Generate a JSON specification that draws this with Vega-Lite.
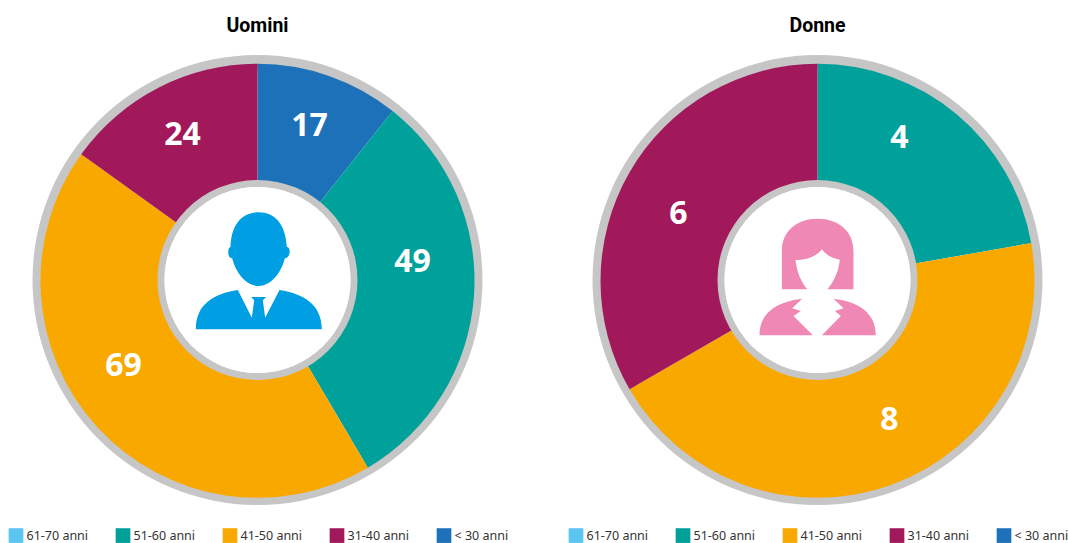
{
  "$schema": "https://vega.github.io/schema/vega-lite/v6.json",
  "padding": {"left": 0, "right": 0, "top": 15, "bottom": 0},
  "background": "white",
  "spacing": 45,
  "config": {"view": {"stroke": null}, "concat": {"spacing": 45}},
  "datasets": {
    "uomini": [
      {"eta": "< 30 anni", "valore": 17, "ordine": 1},
      {"eta": "51-60 anni", "valore": 49, "ordine": 2},
      {"eta": "41-50 anni", "valore": 69, "ordine": 3},
      {"eta": "31-40 anni", "valore": 24, "ordine": 4}
    ],
    "donne": [
      {"eta": "51-60 anni", "valore": 4, "ordine": 1},
      {"eta": "41-50 anni", "valore": 8, "ordine": 2},
      {"eta": "31-40 anni", "valore": 6, "ordine": 3}
    ]
  },
  "resolve": {"scale": {"color": "independent", "x": "independent", "y": "independent"}, "legend": {"color": "independent"}},
  "hconcat": [
    {
      "width": 515,
      "height": 496,
      "title": {"text": "Uomini", "font": "Roboto", "fontSize": 19.5, "fontWeight": "bold", "color": "#000000", "anchor": "middle", "frame": "group", "offset": 12},
      "data": {"name": "uomini"},
      "encoding": {
        "x": {"datum": 0, "type": "quantitative", "axis": null, "scale": {"domain": [-257.5, 257.5]}},
        "y": {"datum": 0, "type": "quantitative", "axis": null, "scale": {"domain": [-264, 232]}}
      },
      "layer": [
        {"data": {"values": [{"anello": "esterno"}]}, "mark": {"type": "arc", "radius": 225, "radius2": 210, "theta": 0, "theta2": 6.2832, "fill": "#C6C6C6"}},
        {
          "mark": {"type": "arc", "radius": 217, "radius2": 95},
          "encoding": {
            "y": {"datum": -0.8, "type": "quantitative"},
            "theta": {"field": "valore", "type": "quantitative", "stack": true},
            "order": {"field": "ordine", "type": "ordinal"},
            "color": {
              "field": "eta", "type": "nominal",
              "scale": {"domain": ["61-70 anni", "51-60 anni", "41-50 anni", "31-40 anni", "< 30 anni"], "range": ["#5BC5F2", "#00A19A", "#F9A800", "#A1195A", "#1D71B8"]},
              "sort": null,
              "legend": {"title": null, "orient": "none", "legendX": 8.5, "legendY": 480, "columns": 5, "gridAlign": "all", "columnPadding": 27, "symbolType": "square", "symbolSize": 216, "symbolStrokeWidth": 0, "labelFont": "Noto Sans", "labelFontSize": 12.5, "labelColor": "#333333", "labelOffset": 3, "padding": 0}
            }
          }
        },
        {"data": {"values": [{"anello": "interno"}]}, "mark": {"type": "arc", "radius": 100, "radius2": 93, "theta": 0, "theta2": 6.2832, "fill": "#C6C6C6"}},
        {"data": {"values": [{"anello": "centro"}]}, "mark": {"type": "arc", "radius": 93, "radius2": 0, "theta": 0, "theta2": 6.2832, "fill": "#FFFFFF"}},
        {"data": {"values": [{"icona": "uomo"}]}, "mark": {"type": "point", "filled": true, "opacity": 1, "size": 0.4444, "fill": "#009FE3", "strokeWidth": 0, "shape": "M 3 -203 C -47 -203 -79 -167 -81 -99 C -90 -99 -92 -65 -76 -65 C -64 -17 -32 18 3 18 C 38 18 70 -17 82 -65 C 98 -65 102 -99 88 -99 C 84 -167 53 -203 3 -203 Z M -185 148 C -185 73 -132 41 -59 30 L -17 113 L -10 61 L -19 51 L 26 51 L 16 61 L 23 113 L 66 30 C 138 41 193 73 193 148 Z"}},
        {"transform": [{"filter": "datum.eta === '< 30 anni'"}], "mark": {"type": "text", "font": "Noto Sans", "fontSize": 32, "fontWeight": "bold", "fill": "#FFFFFF", "baseline": "middle", "align": "center"}, "encoding": {"x": {"datum": 52, "type": "quantitative"}, "y": {"datum": 154, "type": "quantitative"}, "text": {"field": "valore"}}},
        {"transform": [{"filter": "datum.eta === '51-60 anni'"}], "mark": {"type": "text", "font": "Noto Sans", "fontSize": 32, "fontWeight": "bold", "fill": "#FFFFFF", "baseline": "middle", "align": "center"}, "encoding": {"x": {"datum": 155, "type": "quantitative"}, "y": {"datum": 18, "type": "quantitative"}, "text": {"field": "valore"}}},
        {"transform": [{"filter": "datum.eta === '41-50 anni'"}], "mark": {"type": "text", "font": "Noto Sans", "fontSize": 32, "fontWeight": "bold", "fill": "#FFFFFF", "baseline": "middle", "align": "center"}, "encoding": {"x": {"datum": -134, "type": "quantitative"}, "y": {"datum": -86, "type": "quantitative"}, "text": {"field": "valore"}}},
        {"transform": [{"filter": "datum.eta === '31-40 anni'"}], "mark": {"type": "text", "font": "Noto Sans", "fontSize": 32, "fontWeight": "bold", "fill": "#FFFFFF", "baseline": "middle", "align": "center"}, "encoding": {"x": {"datum": -75, "type": "quantitative"}, "y": {"datum": 145, "type": "quantitative"}, "text": {"field": "valore"}}}
      ]
    },
    {
      "width": 509,
      "height": 496,
      "title": {"text": "Donne", "font": "Roboto", "fontSize": 19.5, "fontWeight": "bold", "color": "#000000", "anchor": "middle", "frame": "group", "offset": 12, "dx": 3},
      "data": {"name": "donne"},
      "encoding": {
        "x": {"datum": 0, "type": "quantitative", "axis": null, "scale": {"domain": [-257.5, 251.5]}},
        "y": {"datum": 0, "type": "quantitative", "axis": null, "scale": {"domain": [-264, 232]}}
      },
      "layer": [
        {"data": {"values": [{"anello": "esterno"}]}, "mark": {"type": "arc", "radius": 225, "radius2": 210, "theta": 0, "theta2": 6.2832, "fill": "#C6C6C6"}},
        {
          "mark": {"type": "arc", "radius": 217, "radius2": 95},
          "encoding": {
            "y": {"datum": -0.8, "type": "quantitative"},
            "theta": {"field": "valore", "type": "quantitative", "stack": true},
            "order": {"field": "ordine", "type": "ordinal"},
            "color": {
              "field": "eta", "type": "nominal",
              "scale": {"domain": ["61-70 anni", "51-60 anni", "41-50 anni", "31-40 anni", "< 30 anni"], "range": ["#5BC5F2", "#00A19A", "#F9A800", "#A1195A", "#1D71B8"]},
              "sort": null,
              "legend": {"title": null, "orient": "none", "legendX": 8.5, "legendY": 480, "columns": 5, "gridAlign": "all", "columnPadding": 27, "symbolType": "square", "symbolSize": 216, "symbolStrokeWidth": 0, "labelFont": "Noto Sans", "labelFontSize": 12.5, "labelColor": "#333333", "labelOffset": 3, "padding": 0}
            }
          }
        },
        {"data": {"values": [{"anello": "interno"}]}, "mark": {"type": "arc", "radius": 100, "radius2": 93, "theta": 0, "theta2": 6.2832, "fill": "#C6C6C6"}},
        {"data": {"values": [{"anello": "centro"}]}, "mark": {"type": "arc", "radius": 93, "radius2": 0, "theta": 0, "theta2": 6.2832, "fill": "#FFFFFF"}},
        {"data": {"values": [{"icona": "donna"}]}, "mark": {"type": "point", "filled": true, "opacity": 1, "size": 0.4444, "fill": "#F088B6", "strokeWidth": 0, "shape": "M -107 28 L -107 -87 C -107 -147 -62 -184 0 -184 C 63 -184 108 -147 108 -87 L 108 28 L 30 28 C 53 -2 63 -27 67 -61 C 43 -65 23 -77 13 -92 C -2 -72 -32 -59 -66 -60 C -62 -27 -52 3 -30 28 Z M -174 166 C -174 98 -122 65 -46 56 L -76 85 L -50 93 L -72 108 L -14 166 Z M 175 166 C 175 98 123 65 48 56 L 78 85 L 52 93 L 70 108 L 13 166 Z"}},
        {"transform": [{"filter": "datum.eta === '51-60 anni'"}], "mark": {"type": "text", "font": "Noto Sans", "fontSize": 32, "fontWeight": "bold", "fill": "#FFFFFF", "baseline": "middle", "align": "center"}, "encoding": {"x": {"datum": 82, "type": "quantitative"}, "y": {"datum": 142, "type": "quantitative"}, "text": {"field": "valore"}}},
        {"transform": [{"filter": "datum.eta === '41-50 anni'"}], "mark": {"type": "text", "font": "Noto Sans", "fontSize": 32, "fontWeight": "bold", "fill": "#FFFFFF", "baseline": "middle", "align": "center"}, "encoding": {"x": {"datum": 72, "type": "quantitative"}, "y": {"datum": -140, "type": "quantitative"}, "text": {"field": "valore"}}},
        {"transform": [{"filter": "datum.eta === '31-40 anni'"}], "mark": {"type": "text", "font": "Noto Sans", "fontSize": 32, "fontWeight": "bold", "fill": "#FFFFFF", "baseline": "middle", "align": "center"}, "encoding": {"x": {"datum": -139, "type": "quantitative"}, "y": {"datum": 66, "type": "quantitative"}, "text": {"field": "valore"}}}
      ]
    }
  ]
}
